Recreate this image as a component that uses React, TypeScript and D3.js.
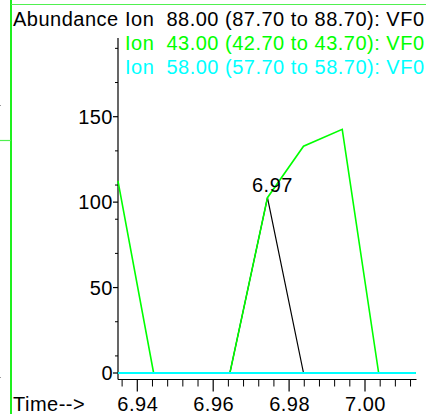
import React from "react";
import * as d3 from "d3";

// ---- data ----
const times = [6.9349, 6.9443, 6.9543, 6.9644, 6.9743, 6.9838, 6.994, 7.0036, 7.0134];
const ion88 = [0, 0, 0, 0, 102.6, 0, 0, 0, 0];
const ion43 = [112.5, 0, 0, 0, 102.6, 132.7, 142.6, 0, 0];
const ion58 = [0, 0, 0, 0, 0, 0, 0, 0, 0];

const xMajorTicks = [6.94, 6.96, 6.98, 7.0];
const xTickLabels = ["6.94", "6.96", "6.98", "7.00"];
const yMajorTicks = [0, 50, 100, 150];
const yTickLabels = ["0", "50", "100", "150"];
const xMinorTicks = [6.936, 6.944, 6.948, 6.952, 6.956, 6.964, 6.968, 6.972, 6.976, 6.984, 6.988, 6.992, 6.996, 7.004, 7.008, 7.012];
const yMinorTicks = [10, 30, 70, 90, 110, 130, 170, 190];

const legendLabels = [
  "Ion  88.00 (87.70 to 88.70): VF0",
  "Ion  43.00 (42.70 to 43.70): VF0",
  "Ion  58.00 (57.70 to 58.70): VF0",
];
const seriesColors = ["#000000", "#00ff00", "#00ffff"];
const peakTime = 6.9743;
const peakValue = 102.6;
const peakLabel = "6.97";

export default function App() {
  const W = 426;
  const H = 414;
  const x = d3.scaleLinear().domain([6.94, 7.0]).range([137.3, 365]);
  const y = d3.scaleLinear().domain([0, 150]).range([373, 116.7]);
  const axisX = 118;
  const axisY = 379.5;
  const font = "'Liberation Sans', Arial, sans-serif";
  const ls = 0.5;

  const line = d3
    .line<number>()
    .x((_, i) => x(times[i]))
    .y((d) => y(d));

  const series = [ion88, ion43, ion58];
  const widths = [1.2, 1.6, 2];

  return (
    <svg
      width={W}
      height={H}
      style={{ position: "absolute", left: 0, top: 0, background: "#fff" }}
      fontFamily={font}
    >
      {/* frame remnants */}
      <line x1={11} y1={0} x2={11} y2={H} stroke="#1ef01e" strokeWidth={2} />
      <line x1={11} y1={4.5} x2={W} y2={4.5} stroke="#50f050" strokeWidth={1.2} />
      <line x1={0} y1={140.5} x2={11} y2={140.5} stroke="#50f050" strokeWidth={1.2} />
      <rect x={0} y={105} width={1} height={1} fill="#999" />
      <rect x={0} y={377} width={1} height={1} fill="#999" />

      {/* axes */}
      <line x1={axisX} y1={38} x2={axisX} y2={axisY} stroke="#000" strokeWidth={1.2} />
      <line x1={axisX} y1={axisY} x2={416.5} y2={axisY} stroke="#000" strokeWidth={1.2} />
      {yMajorTicks.map((v, i) => (
        <g key={"ym" + v}>
          <line x1={axisX - 5} x2={axisX} y1={y(v)} y2={y(v)} stroke="#000" strokeWidth={1.2} />
          <text x={axisX - 5} y={y(v) + 7} fontSize={20} textAnchor="end" fill="#000" letterSpacing={ls}>
            {yTickLabels[i]}
          </text>
        </g>
      ))}
      {yMinorTicks.map((v) => (
        <line key={"yn" + v} x1={axisX - 3} x2={axisX} y1={y(v)} y2={y(v)} stroke="#000" strokeWidth={1} />
      ))}
      {xMajorTicks.map((v, i) => (
        <g key={"xm" + v}>
          <line x1={x(v)} x2={x(v)} y1={axisY} y2={axisY + 12} stroke="#000" strokeWidth={1.2} />
          <text x={x(v) + 0.5} y={411} fontSize={20} textAnchor="middle" fill="#000" letterSpacing={ls}>
            {xTickLabels[i]}
          </text>
        </g>
      ))}
      {xMinorTicks.map((v) => (
        <line key={"xn" + v} x1={x(v)} x2={x(v)} y1={axisY} y2={axisY + 7} stroke="#000" strokeWidth={1} />
      ))}

      {/* series */}
      {series.map((s, i) => (
        <path key={"s" + i} d={line(s) || ""} fill="none" stroke={seriesColors[i]} strokeWidth={widths[i]} strokeLinejoin="miter" />
      ))}

      {/* peak label */}
      <text x={x(peakTime) + 5} y={y(peakValue) - 6} fontSize={20} textAnchor="middle" fill="#000" letterSpacing={ls}>
        {peakLabel}
      </text>

      {/* titles */}
      <text x={13} y={26} fontSize={20} fill="#000" letterSpacing={ls}>Abundance</text>
      <text x={13} y={411} fontSize={20} fill="#000" letterSpacing={ls}>Time--&gt;</text>
      {legendLabels.map((t, i) => (
        <text key={"lg" + i} x={125} y={26 + i * 24} fontSize={20} fill={seriesColors[i]} letterSpacing={ls} style={{ whiteSpace: "pre" }}>
          {t}
        </text>
      ))}
    </svg>
  );
}
